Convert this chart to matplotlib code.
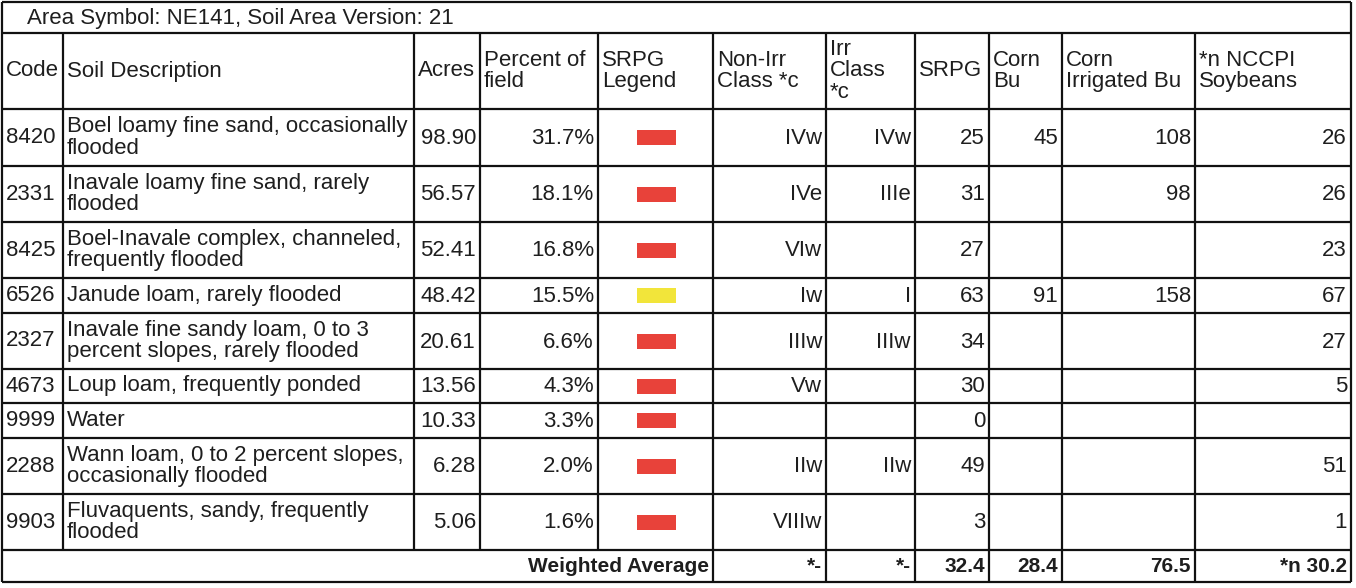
import matplotlib
matplotlib.use("Agg")
import matplotlib.pyplot as plt
from matplotlib.patches import Rectangle

plt.rcParams['font.family'] = ['Liberation Sans', 'DejaVu Sans']

# ---------------- data ----------------
title = "Area Symbol: NE141, Soil Area Version: 21"
headers = ["Code", "Soil Description", "Acres", "Percent of\nfield", "SRPG\nLegend",
           "Non-Irr\nClass *c", "Irr\nClass\n*c", "SRPG", "Corn\nBu",
           "Corn\nIrrigated Bu", "*n NCCPI\nSoybeans"]
codes = ["8420", "2331", "8425", "6526", "2327", "4673", "9999", "2288", "9903"]
descriptions = ["Boel loamy fine sand, occasionally\nflooded",
                "Inavale loamy fine sand, rarely\nflooded",
                "Boel-Inavale complex, channeled,\nfrequently flooded",
                "Janude loam, rarely flooded",
                "Inavale fine sandy loam, 0 to 3\npercent slopes, rarely flooded",
                "Loup loam, frequently ponded",
                "Water",
                "Wann loam, 0 to 2 percent slopes,\noccasionally flooded",
                "Fluvaquents, sandy, frequently\nflooded"]
acres = ["98.90", "56.57", "52.41", "48.42", "20.61", "13.56", "10.33", "6.28", "5.06"]
percents = ["31.7%", "18.1%", "16.8%", "15.5%", "6.6%", "4.3%", "3.3%", "2.0%", "1.6%"]
legend_colors = ["#e8423a", "#e8423a", "#e8423a", "#f2e53a", "#e8423a",
                 "#e8423a", "#e8423a", "#e8423a", "#e8423a"]
non_irr_class = ["IVw", "IVe", "VIw", "Iw", "IIIw", "Vw", "", "IIw", "VIIIw"]
irr_class = ["IVw", "IIIe", "", "I", "IIIw", "", "", "IIw", ""]
srpg = ["25", "31", "27", "63", "34", "30", "0", "49", "3"]
corn_bu = ["45", "", "", "91", "", "", "", "", ""]
corn_irr_bu = ["108", "98", "", "158", "", "", "", "", ""]
nccpi_soy = ["26", "26", "23", "67", "27", "5", "", "51", "1"]
weighted_label = "Weighted Average"
weighted_values = ["*-", "*-", "32.4", "28.4", "76.5", "*n 30.2"]

# ---------------- layout (pixels) ----------------
W, H = 1356, 588
col_edges = [2, 63, 414, 480, 598, 713, 826, 915, 989, 1062, 1195, 1351]
row_edges = [2, 33, 109, 166, 222, 278, 313, 369, 403, 438, 494, 550, 582]
FS = 16
FS_BOLD = 15
TXT = "#1e1e1e"
LW = 1.6
pad = 4
LS = 1.05

fig = plt.figure(figsize=(W / 100, H / 100), dpi=100)
ax = fig.add_axes([0, 0, 1, 1])
ax.set_xlim(0, W)
ax.set_ylim(H, 0)
ax.axis("off")

# title row
ax.text(27, (row_edges[0] + row_edges[1]) / 2 + 1, title, fontsize=FS, color=TXT,
        ha="left", va="center")

# header
hy = (row_edges[1] + row_edges[2]) / 2
for i, h in enumerate(headers):
    ax.text(col_edges[i] + pad, hy, h, fontsize=FS, color=TXT, ha="left",
            va="center", linespacing=LS)

# body
columns = [codes, descriptions, acres, percents, None, non_irr_class, irr_class,
           srpg, corn_bu, corn_irr_bu, nccpi_soy]
left_cols = {0, 1}
for r in range(len(codes)):
    y0, y1 = row_edges[r + 2], row_edges[r + 3]
    yc = (y0 + y1) / 2
    for c, col in enumerate(columns):
        if col is None:
            xc = (col_edges[c] + col_edges[c + 1]) / 2
            ax.add_patch(Rectangle((xc - 19, yc - 7.5), 39, 15,
                                   facecolor=legend_colors[r], edgecolor="none"))
            continue
        val = col[r]
        if not val:
            continue
        if c in left_cols:
            ax.text(col_edges[c] + pad, yc, val, fontsize=FS, color=TXT,
                    ha="left", va="center", linespacing=LS)
        else:
            ax.text(col_edges[c + 1] - pad, yc + 1, val, fontsize=FS, color=TXT,
                    ha="right", va="center")

# weighted average row
wy = (row_edges[-2] + row_edges[-1]) / 2 + 1
ax.text(col_edges[5] - pad, wy, weighted_label, fontsize=FS_BOLD, color=TXT,
        ha="right", va="center", fontweight="bold")
for k, v in enumerate(weighted_values):
    ax.text(col_edges[6 + k] - pad, wy, v, fontsize=FS_BOLD, color=TXT,
            ha="right", va="center", fontweight="bold")

# grid lines
ax.hlines(row_edges, col_edges[0], col_edges[-1], color="#111111", lw=LW)
ax.vlines([col_edges[0], col_edges[-1]], row_edges[0], row_edges[-1],
          color="#111111", lw=LW)
ax.vlines(col_edges[1:-1], row_edges[1], row_edges[-2], color="#111111", lw=LW)
ax.vlines(col_edges[5:-1], row_edges[-2], row_edges[-1], color="#111111", lw=LW)

fig.savefig("out.png", dpi=100, facecolor="white")
